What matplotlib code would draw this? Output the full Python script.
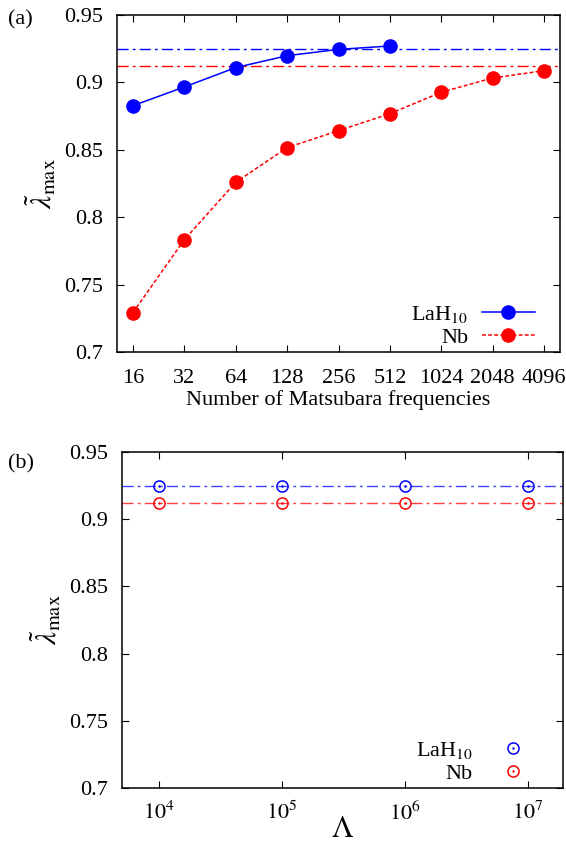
import numpy as np
import matplotlib.pyplot as plt

plt.rcParams['font.family'] = ['Liberation Serif', 'DejaVu Serif']
plt.rcParams['mathtext.fontset'] = 'stix'
plt.rcParams['font.size'] = 15

# (a) convergence with number of Matsubara frequencies
n_freq = ['16', '32', '64', '128', '256', '512', '1024', '2048', '4096']
lah10_a = [0.8827, 0.8966, 0.9110, 0.9198, 0.9245, 0.9270]
nb_a = [0.7292, 0.7833, 0.8259, 0.8516, 0.8642, 0.8768, 0.8927, 0.9033, 0.9087]
lah10_ref = 0.9250
nb_ref = 0.9124

# (b) dependence on cutoff Lambda
cutoff = [1e4, 1e5, 1e6, 1e7]
lah10_b = [0.9250, 0.9250, 0.9250, 0.9250]
nb_b = [0.9124, 0.9124, 0.9124, 0.9124]

fig = plt.figure(figsize=(5.66, 8.52), dpi=100)
W, H = 566, 852
ax1 = fig.add_axes([117 / W, 1 - 352 / H, (560 - 117) / W, (352 - 15) / H])
ax2 = fig.add_axes([122 / W, 1 - 788 / H, (563 - 122) / W, (788 - 452) / H])

ylabel = r'$\tilde{\lambda}_{\rm max}$'
yticks = [0.7, 0.75, 0.8, 0.85, 0.9, 0.95]
ylabels = ['0.7', '0.75', '0.8', '0.85', '0.9', '0.95']
dashdot = (0, (8, 3, 2, 3))

# panel (a)
x = np.arange(len(n_freq))
ax1.axhline(lah10_ref, color='blue', lw=1, ls=dashdot)
ax1.axhline(nb_ref, color='red', lw=1, ls=dashdot)
ax1.plot(x[:len(lah10_a)], lah10_a, '-o', color='blue', lw=1.1, ms=9.5, label=r'LaH$_{10}$')
ax1.plot(x, nb_a, '--o', color='red', lw=1.1, ms=9.5, dashes=(2.5, 1.5), label='Nb')
ax1.set_xticks(x)
ax1.set_xticklabels(n_freq)
ax1.set_xlim(-0.31, 8.31)
ax1.set_ylim(0.7, 0.95)
ax1.set_yticks(yticks)
ax1.set_yticklabels(ylabels)
ax1.tick_params(axis='x', pad=12)
ax1.set_xlabel('Number of Matsubara frequencies', fontsize=16, labelpad=2)
ax1.set_ylabel(ylabel, fontsize=21, labelpad=4)
ax1.legend(loc='lower right', bbox_to_anchor=(535 / W, 1 - 348 / H),
           bbox_transform=fig.transFigure, frameon=False, markerfirst=False,
           handlelength=2.4, handletextpad=0.6, labelspacing=0.1, borderpad=0,
           borderaxespad=0, fontsize=16)
fig.text(8 / W, 1 - 24 / H, '(a)', fontsize=16)

# panel (b)
ax2.axhline(lah10_ref, color='blue', lw=1, ls=dashdot, alpha=0.75)
ax2.axhline(nb_ref, color='red', lw=1, ls=dashdot, alpha=0.75)
c1, = ax2.plot(cutoff, lah10_b, 'o', mfc='none', mec='blue', ms=8, mew=1.1)
c2, = ax2.plot(cutoff, nb_b, 'o', mfc='none', mec='red', ms=8, mew=1.1)
d1, = ax2.plot(cutoff, lah10_b, '.', color='blue', ms=1.5)
d2, = ax2.plot(cutoff, nb_b, '.', color='red', ms=1.5)
ax2.set_xscale('log')
ax2.set_xlim(10 ** 3.7, 10 ** 7.285)
ax2.set_xticks(cutoff)
ax2.set_xticklabels([r'$10^{4}$', r'$10^{5}$', r'$10^{6}$', r'$10^{7}$'])
ax2.minorticks_off()
ax2.set_ylim(0.7, 0.95)
ax2.set_yticks(yticks)
ax2.set_yticklabels(ylabels)
ax2.tick_params(axis='x', pad=10)
ax2.set_xlabel(r'$\Lambda$', fontsize=22, labelpad=-7)
ax2.set_ylabel(ylabel, fontsize=21, labelpad=4)
ax2.legend([(c1, d1), (c2, d2)], [r'LaH$_{10}$', 'Nb'], loc='lower right',
           bbox_to_anchor=(535 / W, 1 - 784 / H), bbox_transform=fig.transFigure,
           frameon=False, markerfirst=False, handlelength=2.0, handletextpad=0.8,
           labelspacing=0.1, borderpad=0, borderaxespad=0, fontsize=16)
fig.text(8 / W, 1 - 468 / H, '(b)', fontsize=16)

for ax in (ax1, ax2):
    ax.tick_params(direction='in', top=True, right=True, length=5, width=0.8,
                   labelsize=16)
    ax.tick_params(axis='y', pad=10)
    for s in ax.spines.values():
        s.set_linewidth(1.1)

fig.savefig('out.png', dpi=100)
